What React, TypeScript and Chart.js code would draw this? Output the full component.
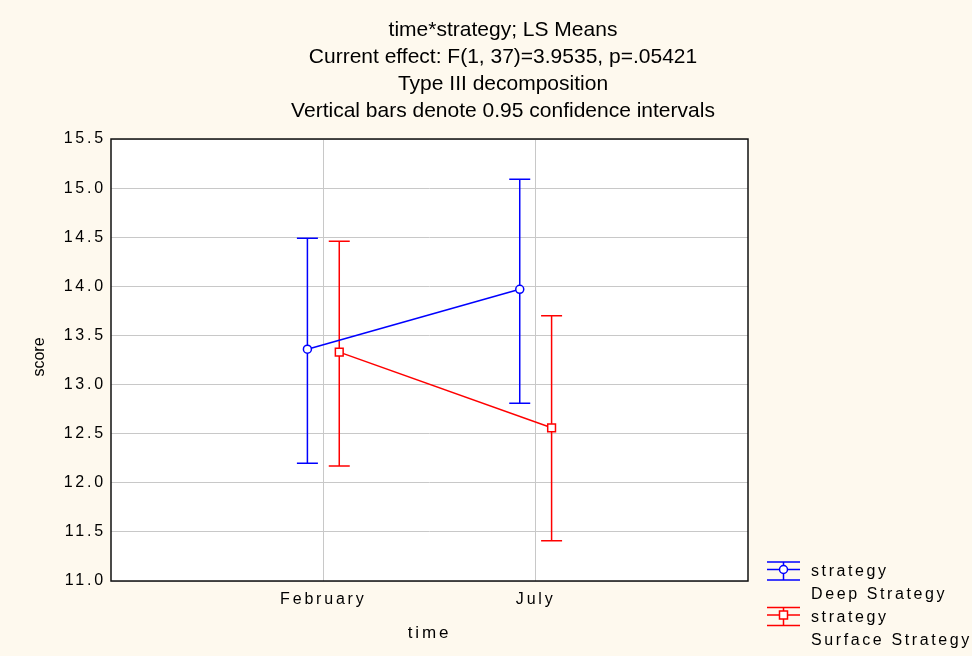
import { useEffect, useRef } from 'react';
import { Chart, registerables } from 'chart.js';

Chart.register(...registerables);

// ---- data ----
const categories = ['February', 'July'];
const deepMeans = [13.36, 13.97];
const deepLower = [12.2, 12.81];
const deepUpper = [14.49, 15.09];
const surfaceMeans = [13.33, 12.56];
const surfaceLower = [12.17, 11.41];
const surfaceUpper = [14.46, 13.7];
const titleLines = [
  'time*strategy; LS Means',
  'Current effect: F(1, 37)=3.9535, p=.05421',
  'Type III decomposition',
  'Vertical bars denote 0.95 confidence intervals',
];
const legendLines = [
  ['strategy', 'Deep Strategy'],
  ['strategy', 'Surface Strategy'],
];
const xAxisTitle = 'time';
const yAxisTitle = 'score';

// ---- styles ----
const FONT = '"Liberation Sans", Arial, sans-serif';
const BLUE = '#0000FF';
const RED = '#FF0000';
const BG = '#FEF9EE';
const GRID = '#C8C8C8';
const OFFSET = 0.075;
const SPACING = '2.8px';

const bounds = [
  { lower: deepLower, upper: deepUpper, color: BLUE },
  { lower: surfaceLower, upper: surfaceUpper, color: RED },
];

const customPlugin = {
  id: 'custom',
  beforeDraw(chart: any) {
    const { ctx, chartArea: a, width, height } = chart;
    ctx.save();
    ctx.fillStyle = BG;
    ctx.fillRect(0, 0, width, height);
    ctx.fillStyle = '#FFFFFF';
    ctx.fillRect(a.left, a.top, a.right - a.left, a.bottom - a.top);
    ctx.restore();
    (ctx as any).letterSpacing = SPACING;
  },
  beforeDatasetsDraw(chart: any) {
    const { ctx, chartArea: a, scales } = chart;
    ctx.save();
    ctx.strokeStyle = '#111111';
    ctx.lineWidth = 1.5;
    ctx.strokeRect(a.left, a.top, a.right - a.left, a.bottom - a.top);
    // error bars
    chart.data.datasets.forEach((ds: any, i: number) => {
      const b = bounds[i];
      ctx.strokeStyle = b.color;
      ctx.lineWidth = 1.5;
      ds.data.forEach((p: any, j: number) => {
        const x = scales.x.getPixelForValue(p.x);
        const y1 = scales.y.getPixelForValue(b.upper[j]);
        const y2 = scales.y.getPixelForValue(b.lower[j]);
        ctx.beginPath();
        ctx.moveTo(x, y1);
        ctx.lineTo(x, y2);
        ctx.moveTo(x - 10.5, y1);
        ctx.lineTo(x + 10.5, y1);
        ctx.moveTo(x - 10.5, y2);
        ctx.lineTo(x + 10.5, y2);
        ctx.stroke();
      });
    });
    ctx.restore();
  },
  afterDraw(chart: any) {
    const { ctx, chartArea: a } = chart;
    ctx.save();
    (ctx as any).letterSpacing = '0px';
    ctx.fillStyle = '#000000';
    ctx.textAlign = 'center';
    ctx.textBaseline = 'middle';
    ctx.font = `21px ${FONT}`;
    titleLines.forEach((t, i) => ctx.fillText(t, 503, 30 + i * 27));
    // y axis title
    ctx.font = `16px ${FONT}`;
    ctx.translate(39.5, 357);
    ctx.rotate(-Math.PI / 2);
    ctx.fillText(yAxisTitle, 0, 0);
    ctx.restore();

    // legend
    ctx.save();
    (ctx as any).letterSpacing = '2.6px';
    const x0 = a.right + 19;
    const x1 = x0 + 33;
    const xc = (x0 + x1) / 2;
    const colors = [BLUE, RED];
    legendLines.forEach((lines, i) => {
      const top = 562 + i * 45.5;
      const mid = top + 7.5;
      const bot = top + 18;
      ctx.strokeStyle = colors[i];
      ctx.lineWidth = 1.5;
      ctx.beginPath();
      [top, mid, bot].forEach((yy) => {
        ctx.moveTo(x0, yy);
        ctx.lineTo(x1, yy);
      });
      ctx.moveTo(xc, top);
      ctx.lineTo(xc, bot);
      ctx.stroke();
      ctx.fillStyle = '#FFFFFF';
      ctx.beginPath();
      if (i === 0) {
        ctx.arc(xc, mid, 4, 0, Math.PI * 2);
      } else {
        ctx.rect(xc - 4, mid - 4, 8, 8);
      }
      ctx.fill();
      ctx.stroke();
      ctx.fillStyle = '#000000';
      ctx.font = `16px ${FONT}`;
      ctx.textAlign = 'left';
      ctx.textBaseline = 'middle';
      ctx.fillText(lines[0], a.right + 63, top + 10);
      ctx.fillText(lines[1], a.right + 63, top + 33);
    });
    ctx.restore();
  },
};

export default function App() {
  const ref = useRef<HTMLCanvasElement>(null);
  useEffect(() => {
    const canvas = ref.current!;
    Chart.defaults.font.family = FONT;
    const chart = new Chart(canvas, {
      type: 'line',
      data: {
        datasets: [
          {
            label: 'Deep Strategy',
            data: deepMeans.map((v, i) => ({ x: i + 1 - OFFSET, y: v })),
            borderColor: BLUE,
            borderWidth: 1.5,
            pointStyle: 'circle',
            pointRadius: 4,
            pointBorderWidth: 1.5,
            pointBackgroundColor: '#FFFFFF',
            pointBorderColor: BLUE,
            fill: false,
            tension: 0,
          },
          {
            label: 'Surface Strategy',
            data: surfaceMeans.map((v, i) => ({ x: i + 1 + OFFSET, y: v })),
            borderColor: RED,
            borderWidth: 1.5,
            pointStyle: 'rect',
            pointRadius: 5.5,
            pointBorderWidth: 1.5,
            pointBackgroundColor: '#FFFFFF',
            pointBorderColor: RED,
            fill: false,
            tension: 0,
          },
        ],
      },
      options: {
        responsive: false,
        animation: false,
        devicePixelRatio: 1,
        layout: { padding: { top: 139, right: 224, bottom: 0, left: 0 } },
        plugins: {
          legend: { display: false },
          title: { display: false },
          tooltip: { enabled: false },
        },
        scales: {
          x: {
            type: 'linear',
            min: 0,
            max: categories.length + 1,
            afterFit: (s: any) => {
              s.height = 75;
            },
            afterBuildTicks: (s: any) => {
              s.ticks = [0, 1, 2, 3].map((v) => ({ value: v }));
            },
            ticks: {
              stepSize: 1,
              padding: 9,
              color: '#000000',
              font: { size: 16 },
              maxRotation: 0,
              autoSkip: false,
              callback: (v: any) => {
                const n = Number(v);
                return Number.isInteger(n) && n >= 1 && n <= categories.length ? categories[n - 1] : '';
              },
            },
            grid: {
              drawTicks: false,
              lineWidth: 1,
              color: (c: any) =>
                c.tick && c.tick.value > 0 && c.tick.value < categories.length + 1 ? GRID : 'rgba(0,0,0,0)',
            },
            border: { display: false },
            title: {
              display: true,
              text: xAxisTitle,
              color: '#000000',
              font: { size: 17 },
              padding: { top: 0, bottom: 12 },
            },
          },
          y: {
            min: 11,
            max: 15.5,
            afterFit: (s: any) => {
              s.width = 111;
            },
            ticks: {
              stepSize: 0.5,
              padding: 5,
              color: '#000000',
              font: { size: 16 },
              callback: (v: any) => Number(v).toFixed(1),
            },
            grid: { drawTicks: false, color: GRID, lineWidth: 1 },
            border: { display: false },
            title: { display: false },
          },
        },
      },
      plugins: [customPlugin],
    } as any);
    return () => chart.destroy();
  }, []);
  return (
    <div style={{ position: 'absolute', left: 0, top: 0, width: 972, height: 656 }}>
      <canvas ref={ref} width={972} height={656} style={{ display: 'block', width: 972, height: 656 }} />
    </div>
  );
}
